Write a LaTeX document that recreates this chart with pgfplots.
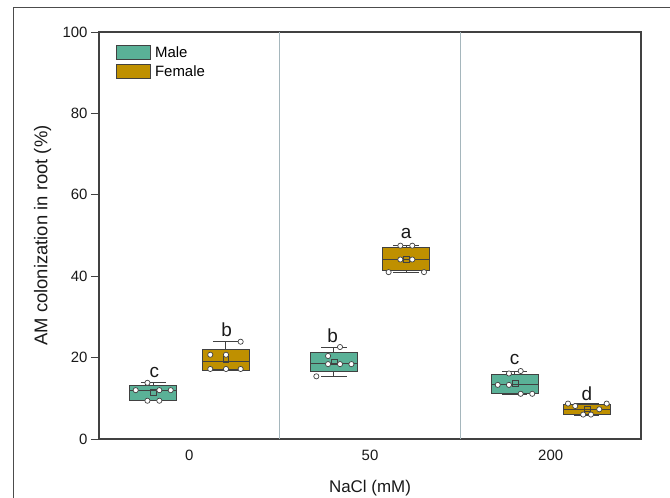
\documentclass[border=0pt]{standalone}
\usepackage{pgfplots}
\pgfplotsset{compat=1.18}
\usepackage{fontspec}
\setmainfont{Liberation Sans}
\definecolor{malec}{RGB}{90,177,151}
\definecolor{femalec}{RGB}{191,144,0}
\definecolor{edgec}{RGB}{65,65,65}
\definecolor{sepc}{RGB}{165,182,188}
\begin{document}
\begin{tikzpicture}
\useasboundingbox (0,0) rectangle (670bp,498bp);
\draw[line width=1bp, color=black!70] (13bp,-2bp) -- (13bp,490bp) -- (672bp,490bp);
\begin{axis}[
  at={(99bp,59bp)}, anchor=south west,
  scale only axis, width=542bp, height=407bp,
  xmin=-0.5, xmax=2.5, ymin=0, ymax=100,
  xtick={0,1,2}, xticklabels={0,50,200},
  major x tick style={draw=none},
  ytick={0,20,40,60,80,100},
  ytick pos=left, tick align=outside,
  major tick length=8bp,
  axis line style={edgec, line width=1.1bp},
  y tick style={edgec, line width=0.8bp},
  tick label style={font=\fontsize{15}{17}\selectfont, text=black!90},
  /pgf/number format/assume math mode=true,
  extra x ticks={0.5,1.5}, extra x tick labels={},
  extra x tick style={grid=major, major grid style={sepc, line width=0.9bp}, major tick length=0pt},
  xlabel={NaCl (mM)}, ylabel={AM colonization in root (\%)},
  xlabel style={at={(axis description cs:0.5,-0.12)}, anchor=center, font=\fontsize{17}{19}\selectfont, text=black!90},
  ylabel style={at={(axis description cs:-0.104,0.5)}, rotate=0, anchor=center, font=\fontsize{18.5}{20}\selectfont, text=black!90},
  clip=false,
  unbounded coords=jump,
  legend style={at={(axis description cs:0.026,0.975)}, anchor=north west, draw=none, fill=none,
    font=\fontsize{15}{17}\selectfont, row sep=3bp, column sep=2bp, cells={anchor=west}},
  legend image code/.code={\draw[#1] (0bp,-7bp) rectangle (34bp,7bp);},
  boxst/.style={forget plot, draw=edgec, line width=0.8bp},
  whst/.style={forget plot, draw=edgec, line width=0.8bp, no marks},
]
\addlegendimage{fill=malec, draw=edgec, line width=0.8bp}
\addlegendentry{Male}
\addlegendimage{fill=femalec, draw=edgec, line width=0.8bp}
\addlegendentry{Female}

% ---- 0 mM, male: LW 9.4 Q1 9.5 M 12.0 Q3 13.1 UW 13.8
\addplot[boxst, fill=malec] coordinates {(-0.33,9.5) (-0.07,9.5) (-0.07,13.1) (-0.33,13.1)} --cycle;
\addplot[whst] coordinates {(-0.33,12.0) (-0.07,12.0) (-0.07,nan)
  (-0.2,13.1) (-0.2,13.8) (-0.2,nan) (-0.27,13.8) (-0.13,13.8) (-0.13,nan)
  (-0.2,9.5) (-0.2,9.4) (-0.2,nan) (-0.27,9.4) (-0.13,9.4)};
% ---- 0 mM, female: LW 17.0 Q1 16.8 M 19.1 Q3 22.0 UW 23.9
\addplot[boxst, fill=femalec] coordinates {(0.07,16.8) (0.33,16.8) (0.33,22.0) (0.07,22.0)} --cycle;
\addplot[whst] coordinates {(0.07,19.1) (0.33,19.1) (0.33,nan)
  (0.2,22.0) (0.2,23.9) (0.2,nan) (0.13,23.9) (0.27,23.9) (0.27,nan)
  (0.2,17.0) (0.2,17.0) (0.2,nan) (0.13,17.0) (0.27,17.0)};
% ---- 50 mM, male: LW 15.4 Q1 16.5 M 18.5 Q3 21.2 UW 22.5
\addplot[boxst, fill=malec] coordinates {(0.67,16.5) (0.93,16.5) (0.93,21.2) (0.67,21.2)} --cycle;
\addplot[whst] coordinates {(0.67,18.5) (0.93,18.5) (0.93,nan)
  (0.8,21.2) (0.8,22.5) (0.8,nan) (0.73,22.5) (0.87,22.5) (0.87,nan)
  (0.8,16.5) (0.8,15.4) (0.8,nan) (0.73,15.4) (0.87,15.4)};
% ---- 50 mM, female: LW 41.0 Q1 41.4 M 44.1 Q3 47.0 UW 47.5
\addplot[boxst, fill=femalec] coordinates {(1.07,41.4) (1.33,41.4) (1.33,47.0) (1.07,47.0)} --cycle;
\addplot[whst] coordinates {(1.07,44.1) (1.33,44.1) (1.33,nan)
  (1.2,47.0) (1.2,47.5) (1.2,nan) (1.13,47.5) (1.27,47.5) (1.27,nan)
  (1.2,41.4) (1.2,41.0) (1.2,nan) (1.13,41.0) (1.27,41.0)};
% ---- 200 mM, male: LW 11.1 Q1 11.1 M 13.3 Q3 15.9 UW 16.7
\addplot[boxst, fill=malec] coordinates {(1.67,11.1) (1.93,11.1) (1.93,15.9) (1.67,15.9)} --cycle;
\addplot[whst] coordinates {(1.67,13.3) (1.93,13.3) (1.93,nan)
  (1.8,15.9) (1.8,16.7) (1.8,nan) (1.73,16.7) (1.87,16.7) (1.87,nan)
  (1.73,11.0) (1.87,11.0)};
% ---- 200 mM, female: LW 6.0 Q1 6.1 M 7.3 Q3 8.6 UW 8.7
\addplot[boxst, fill=femalec] coordinates {(2.07,6.1) (2.33,6.1) (2.33,8.6) (2.07,8.6)} --cycle;
\addplot[whst] coordinates {(2.07,7.3) (2.33,7.3) (2.33,nan)
  (2.13,8.7) (2.27,8.7) (2.27,nan)
  (2.13,5.9) (2.27,5.9)};

% means
\addplot[forget plot, only marks, mark=square, mark size=2.8bp, mark options={draw=edgec, line width=0.8bp}] coordinates {
(-0.199,11.5) (0.203,19.6) (0.802,18.9) (1.201,44.1) (1.804,13.6) (2.203,7.4)};

% individual points
\addplot[forget plot, only marks, mark=*, mark size=2.6bp, mark options={fill=white, draw=edgec, line width=0.7bp}] coordinates {
(-0.297,12.0) (-0.232,13.8) (-0.166,12.0) (-0.103,12.0) (-0.232,9.4) (-0.166,9.4)
(0.116,20.7) (0.203,20.7) (0.116,17.2) (0.203,17.2) (0.284,17.2) (0.284,23.9)
(0.834,22.6) (0.768,20.4) (0.768,18.4) (0.834,18.4) (0.897,18.4) (0.703,15.4)
(1.168,47.5) (1.234,47.5) (1.168,44.1) (1.234,44.1) (1.103,41.0) (1.299,41.0)
(1.834,16.7) (1.769,16.1) (1.707,13.3) (1.769,13.3) (1.834,11.1) (1.898,11.1)
(2.096,8.7) (2.310,8.7) (2.136,8.1) (2.269,7.3) (2.180,6.0) (2.223,6.0)};

% letters
\begin{scope}[every node/.style={font=\fontsize{19}{21}\selectfont, text=black!90}]
\node at (axis cs:-0.194,16.3) {c};
\node at (axis cs:0.207,26.8) {b};
\node at (axis cs:0.793,25.3) {b};
\node at (axis cs:1.2,50.4) {a};
\node at (axis cs:1.8,19.6) {c};
\node at (axis cs:2.2,11.2) {d};
\end{scope}
\end{axis}
\end{tikzpicture}
\end{document}
